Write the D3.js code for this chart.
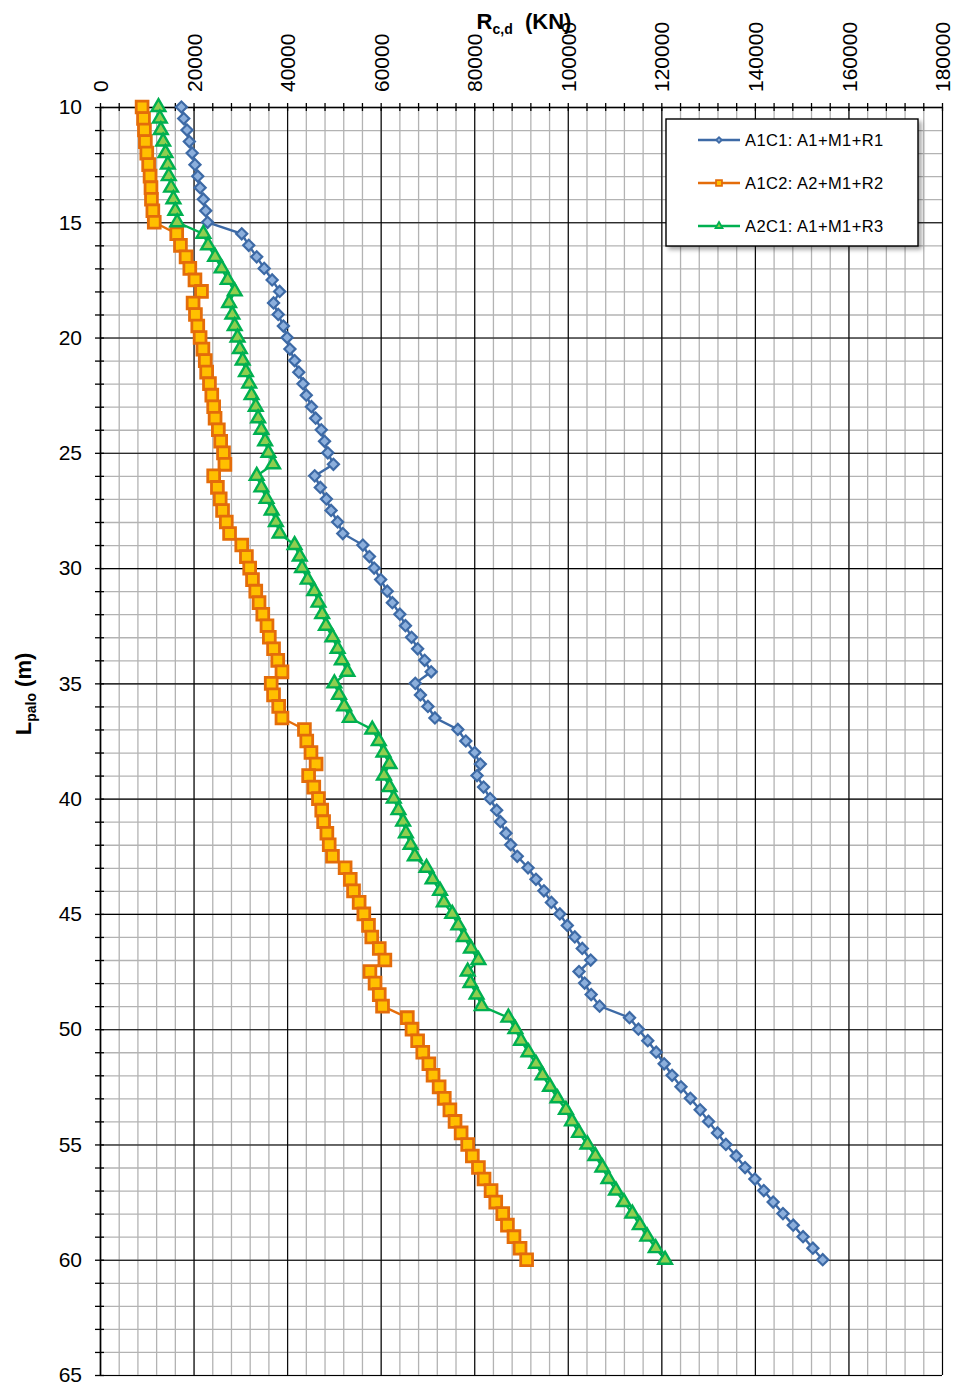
<!DOCTYPE html>
<html>
<head>
<meta charset="utf-8">
<script src="https://cdn.jsdelivr.net/npm/d3@7/dist/d3.min.js"></script>
<style>
  html, body { margin: 0; padding: 0; background: #fff; }
  svg { display: block; font-family: "Liberation Sans", Arial, sans-serif; }
</style>
</head>
<body>
<svg id="chart" width="955" height="1384"></svg>
<script>
// Pile length (m) — one reading every 0.5 m
const depths = [
  10, 10.5, 11, 11.5, 12, 12.5, 13, 13.5, 14, 14.5,
  15, 15.5, 16, 16.5, 17, 17.5, 18, 18.5, 19, 19.5,
  20, 20.5, 21, 21.5, 22, 22.5, 23, 23.5, 24, 24.5,
  25, 25.5, 26, 26.5, 27, 27.5, 28, 28.5, 29, 29.5,
  30, 30.5, 31, 31.5, 32, 32.5, 33, 33.5, 34, 34.5,
  35, 35.5, 36, 36.5, 37, 37.5, 38, 38.5, 39, 39.5,
  40, 40.5, 41, 41.5, 42, 42.5, 43, 43.5, 44, 44.5,
  45, 45.5, 46, 46.5, 47, 47.5, 48, 48.5, 49, 49.5,
  50, 50.5, 51, 51.5, 52, 52.5, 53, 53.5, 54, 54.5,
  55, 55.5, 56, 56.5, 57, 57.5, 58, 58.5, 59, 59.5,
  60
];

// Rc,d (kN) per combination
const a1c1 = [
  17400, 17900, 18600, 19100, 19700, 20300, 20900, 21400, 22100, 22600,
  23000, 30300, 31800, 33500, 35100, 36800, 38400, 37100, 38100, 39200,
  40000, 40600, 41600, 42500, 43400, 44100, 45200, 46100, 47300, 48000,
  48700, 49900, 45900, 47100, 48400, 49400, 50800, 51900, 56200, 57600,
  58600, 60000, 61400, 62500, 64100, 65300, 66600, 67900, 69400, 70800,
  67400, 68500, 70100, 71600, 76500, 78200, 80100, 81300, 80600, 82000,
  83400, 84800, 85600, 86800, 87800, 89200, 91500, 93200, 94900, 96500,
  98300, 99900, 101500, 103100, 104900, 102400, 103600, 105000, 106800, 113200,
  115100, 117100, 118900, 120600, 122300, 124200, 126200, 128300, 130100, 132000,
  133800, 136000, 137900, 140000, 141900, 143900, 146000, 148200, 150300, 152400,
  154500
];

const a1c2 = [
  9000, 9300, 9500, 9700, 10000, 10400, 10700, 10900, 11000, 11300,
  11600, 16400, 17200, 18400, 19200, 20300, 21700, 19900, 20400, 20900,
  21400, 22000, 22500, 22800, 23400, 23900, 24300, 24600, 25300, 25800,
  26400, 26700, 24300, 25100, 25700, 26200, 27000, 27700, 30300, 31300,
  32000, 32600, 33300, 34000, 34800, 35700, 36200, 37100, 38000, 38900,
  36600, 37100, 38200, 38900, 43700, 44200, 45100, 46200, 44600, 45700,
  46700, 47400, 47800, 48500, 49000, 49700, 52400, 53500, 54200, 55400,
  56400, 57400, 58100, 59700, 60900, 57700, 58800, 59700, 60400, 65700,
  66700, 67900, 69000, 70300, 71200, 72500, 73600, 74800, 75900, 77200,
  78600, 79600, 80900, 82100, 83600, 84600, 86100, 87100, 88500, 89800,
  91200
];

const a2c1 = [
  12500, 12800, 13000, 13500, 14000, 14500, 14700, 15200, 15700, 16100,
  16500, 22100, 23100, 24600, 26000, 27300, 28800, 27600, 28300, 28800,
  29400, 29900, 30500, 31200, 31900, 32400, 33300, 33800, 34500, 35300,
  36000, 37000, 33500, 34500, 35600, 36700, 37600, 38400, 41600, 42700,
  43200, 44400, 45800, 46700, 47500, 48300, 49700, 50800, 51700, 52900,
  50100, 51100, 52200, 53400, 58200, 59600, 60600, 61900, 60700, 61900,
  62800, 63800, 64800, 65400, 66400, 67300, 69800, 71100, 72700, 73500,
  75300, 76600, 77800, 79300, 80900, 78600, 79200, 80500, 81600, 87300,
  88800, 90000, 91600, 93200, 94600, 96200, 97800, 99600, 100900, 102400,
  104200, 105900, 107400, 108700, 110300, 112000, 113800, 115400, 117000, 118800,
  120800
];

const seriesNames = ["A1C1: A1+M1+R1", "A1C2: A2+M1+R2", "A2C1: A1+M1+R3"];
const xTicks = [0, 20000, 40000, 60000, 80000, 100000, 120000, 140000, 160000, 180000];
const yTicks = [10, 15, 20, 25, 30, 35, 40, 45, 50, 55, 60, 65];

const MARGIN = { top: 107, left: 100 };
const innerW = 842, innerH = 1268;

const STYLES = [
  { line: "#3d6aa6", stroke: "#3d6aa6", fill: "#8cafdc", shape: "diamond", size: 62, sw: 2.2 },
  { line: "#e46c0a", stroke: "#e46c0a", fill: "#ffc000", shape: "square", size: 140, sw: 2.8 },
  { line: "#00b050", stroke: "#00b050", fill: "#8fce4f", shape: "triangle", size: 82, sw: 2.4 }
];

const svg = d3.select("#chart");
const g = svg.append("g").attr("transform", `translate(${MARGIN.left},${MARGIN.top})`);

const x = d3.scaleLinear([0, 180000], [0, innerW]);
const y = d3.scaleLinear([10, 65], [0, innerH]);

const xMinor = d3.range(0, 180001, 4000);
const yMinor = d3.range(10, 65.01, 1);

// minor grid
g.append("g").attr("class", "grid-minor")
  .call(d3.axisTop(x).tickValues(xMinor).tickSize(-innerH).tickFormat(""))
  .call(s => s.select(".domain").remove())
  .selectAll("line").attr("stroke", "#b3b3b3").attr("stroke-width", 1.3);
g.append("g").attr("class", "grid-minor")
  .call(d3.axisLeft(y).tickValues(yMinor).tickSize(-innerW).tickFormat(""))
  .call(s => s.select(".domain").remove())
  .selectAll("line").attr("stroke", "#b3b3b3").attr("stroke-width", 1.3);

// major grid
g.append("g").attr("class", "grid-major")
  .call(d3.axisTop(x).tickValues(xTicks).tickSize(-innerH).tickFormat(""))
  .call(s => s.select(".domain").remove())
  .selectAll("line").attr("stroke", "#000").attr("stroke-width", 1.1);
g.append("g").attr("class", "grid-major")
  .call(d3.axisLeft(y).tickValues(yTicks).tickSize(-innerW).tickFormat(""))
  .call(s => s.select(".domain").remove())
  .selectAll("line").attr("stroke", "#000").attr("stroke-width", 1.1);

// crossing tick marks on the axes
[4, -4].forEach(sz => {
  g.append("g").call(d3.axisTop(x).tickValues(xMinor).tickSize(sz).tickFormat(""))
    .call(s => s.select(".domain").remove())
    .selectAll("line").attr("stroke", "#000").attr("stroke-width", 1.3);
  g.append("g").call(d3.axisLeft(y).tickValues(yMinor).tickSize(sz + (sz > 0 ? 1 : 0)).tickFormat(""))
    .call(s => s.select(".domain").remove())
    .selectAll("line").attr("stroke", "#000").attr("stroke-width", 1.3);
});

// axis lines + labels
const xAxis = g.append("g")
  .call(d3.axisTop(x).tickValues(xTicks).tickSize(0).tickFormat(d3.format("d")));
xAxis.select(".domain").attr("stroke", "#000").attr("stroke-width", 1.6);
xAxis.selectAll("text")
  .attr("transform", "rotate(-90)")
  .attr("x", 15).attr("y", 0).attr("dy", "0.36em")
  .style("text-anchor", "start")
  .attr("font-size", 21).attr("font-family", "Liberation Sans, Arial, sans-serif")
  .attr("fill", "#000");

const yAxis = g.append("g")
  .call(d3.axisLeft(y).tickValues(yTicks).tickSize(0).tickPadding(18).tickFormat(d3.format("d")));
yAxis.select(".domain").attr("stroke", "#000").attr("stroke-width", 1.6);
yAxis.selectAll("text")
  .attr("font-size", 21).attr("font-family", "Liberation Sans, Arial, sans-serif")
  .attr("fill", "#000");

// series
const allSeries = [a1c1, a1c2, a2c1];
const line = d3.line().x(d => x(d.v)).y(d => y(d.L));

function symbolPath(st, scale = 1) {
  const type = st.shape === "triangle" ? d3.symbolTriangle : d3.symbolSquare;
  return d3.symbol(type, st.size * scale * scale)();
}
const rot = st => (st.shape === "diamond" ? " rotate(45)" : "");

const seriesData = allSeries.map(vals => depths.map((L, j) => ({ L, v: vals[j] })));

// lines first, markers on top (as in the spreadsheet chart)
seriesData.forEach((pts, i) => {
  g.append("path")
    .attr("d", line(pts))
    .attr("fill", "none")
    .attr("stroke", STYLES[i].line)
    .attr("stroke-width", 2.4);
});
seriesData.forEach((pts, i) => {
  const st = STYLES[i];
  g.append("g").selectAll("path").data(pts).join("path")
    .attr("d", symbolPath(st))
    .attr("transform", d => `translate(${x(d.v)},${y(d.L)})` + rot(st))
    .attr("fill", st.fill)
    .attr("stroke", st.stroke)
    .attr("stroke-width", st.sw);
});

// axis titles
const xt = svg.append("text")
  .attr("x", 524).attr("y", 29)
  .attr("text-anchor", "middle")
  .attr("font-weight", "bold").attr("font-size", 22).attr("fill", "#000");
xt.append("tspan").text("R");
xt.append("tspan").attr("font-size", 14).attr("dy", 5).text("c,d");
xt.append("tspan").attr("dy", -5).text("\u00a0 (KN)");

const yt = svg.append("text")
  .attr("transform", "translate(31,694) rotate(-90)")
  .attr("text-anchor", "middle")
  .attr("font-weight", "bold").attr("font-size", 22).attr("fill", "#000");
yt.append("tspan").text("L");
yt.append("tspan").attr("font-size", 14).attr("dy", 5).text("palo");
yt.append("tspan").attr("dy", -5).text(" (m)");

// legend
const defs = svg.append("defs");
const f = defs.append("filter").attr("id", "shadow").attr("x", "-10%").attr("y", "-10%").attr("width", "130%").attr("height", "130%");
f.append("feDropShadow").attr("dx", 3).attr("dy", 3).attr("stdDeviation", 2)
  .attr("flood-color", "#000").attr("flood-opacity", 0.35);

const lg = svg.append("g").attr("transform", "translate(666,119)");
lg.append("rect")
  .attr("width", 252).attr("height", 127)
  .attr("fill", "#fff").attr("stroke", "#000").attr("stroke-width", 1.4)
  .attr("filter", "url(#shadow)");

seriesNames.forEach((name, i) => {
  const st = STYLES[i];
  const ry = 21 + i * 43;
  const row = lg.append("g").attr("transform", `translate(0,${ry})`);
  row.append("line")
    .attr("x1", 32).attr("x2", 74).attr("y1", 0).attr("y2", 0)
    .attr("stroke", st.line).attr("stroke-width", 2.5);
  row.append("path")
    .attr("d", symbolPath(st, 0.5))
    .attr("transform", `translate(53,0)` + rot(st))
    .attr("fill", st.fill).attr("stroke", st.stroke).attr("stroke-width", 1.8);
  row.append("text")
    .attr("x", 79).attr("y", 6)
    .attr("font-size", 16.5).attr("fill", "#000")
    .attr("letter-spacing", 0.4)
    .text(name);
});
</script>
</body>
</html>
